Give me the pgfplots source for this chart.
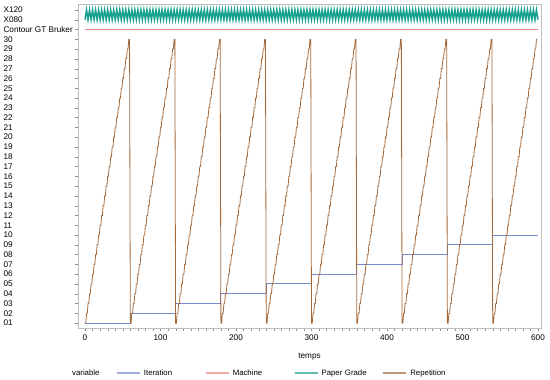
\documentclass[border=0pt]{standalone}
\usepackage{pgfplots}
\pgfplotsset{compat=1.18}
\usepackage{fontspec}
\setmainfont{Liberation Sans}
\definecolor{citer}{RGB}{118,138,210}
\definecolor{cmach}{RGB}{236,130,126}
\definecolor{cpaper}{RGB}{24,162,144}
\definecolor{crep}{RGB}{164,106,60}
\newcommand{\fs}{\fontsize{8.2pt}{10pt}\selectfont}
\newcommand{\fl}{\fontsize{7.8pt}{10pt}\selectfont}
\begin{document}
\begin{tikzpicture}
\useasboundingbox (0,0) rectangle (550pt,380pt);
\begin{axis}[
  at={(78pt,52pt)}, anchor=south west,
  scale only axis, width=463pt, height=324pt,
  xmin=-9.3, xmax=604, ymin=0.5, ymax=33.6,
  clip=false,
  axis line style={black!25},
  tick style={black!45},
  tick align=outside, xtick pos=bottom, ytick pos=left,
  major tick length=3pt, minor tick length=3pt,
  xtick={0,100,...,600}, minor x tick num=9,
  ytick={1,...,33},
  yticklabels={01,02,03,04,05,06,07,08,09,10,11,12,13,14,15,16,17,18,19,20,21,22,23,24,25,26,27,28,29,30,Contour GT Bruker,X080,X120},
  yticklabel style={anchor=west, xshift=-75pt, font=\fs},
  xticklabel style={font=\fs},
  /pgf/number format/assume math mode=true,
  xlabel={temps}, xlabel style={font=\fs, yshift=-6pt},
  legend columns=-1,
  legend style={at={(axis description cs:0.082,-0.139)}, anchor=west, draw=none, fill=none, inner sep=0pt,
    font=\fl, nodes={inner xsep=3pt, text width=56pt, align=left},
    /tikz/every even column/.append style={column sep=2pt}},
]
\addplot[color=citer, line width=1pt, const plot, mark=none,
  legend image code/.code={\draw[citer, line width=1.8pt, opacity=0.7] (0pt,0pt) -- (23pt,0pt);}]
  coordinates {(0,1)(60,2)(120,3)(180,4)(240,5)(300,6)(360,7)(420,8)(480,9)(540,10)(600,10)};
\addlegendentry{Iteration}
\addplot[color=cmach, line width=1.8pt, mark=none,
  legend image code/.code={\draw[cmach, line width=1.8pt, opacity=0.7] (0pt,0pt) -- (23pt,0pt);}]
  coordinates {(0,31)(100,31)(200,31)(300,31)(400,31)(500,31)(600,31)};
\addlegendentry{Machine}
\addplot[color=cpaper, line width=1.5pt, mark=none,
  legend image code/.code={\draw[cpaper, line width=1.8pt, opacity=0.7] (0pt,0pt) -- (23pt,0pt);}]
  coordinates {(0,32)(2,33)(4,32)(6,33)(8,32)(10,33)(12,32)(14,33)(16,32)(18,33)(20,32)(22,33)(24,32)(26,33)(28,32)(30,33)(32,32)(34,33)(36,32)(38,33)(40,32)(42,33)(44,32)(46,33)(48,32)(50,33)(52,32)(54,33)(56,32)(58,33)(60,32)(62,33)(64,32)(66,33)(68,32)(70,33)(72,32)(74,33)(76,32)(78,33)(80,32)(82,33)(84,32)(86,33)(88,32)(90,33)(92,32)(94,33)(96,32)(98,33)(100,32)(102,33)(104,32)(106,33)(108,32)(110,33)(112,32)(114,33)(116,32)(118,33)(120,32)(122,33)(124,32)(126,33)(128,32)(130,33)(132,32)(134,33)(136,32)(138,33)(140,32)(142,33)(144,32)(146,33)(148,32)(150,33)(152,32)(154,33)(156,32)(158,33)(160,32)(162,33)(164,32)(166,33)(168,32)(170,33)(172,32)(174,33)(176,32)(178,33)(180,32)(182,33)(184,32)(186,33)(188,32)(190,33)(192,32)(194,33)(196,32)(198,33)(200,32)(202,33)(204,32)(206,33)(208,32)(210,33)(212,32)(214,33)(216,32)(218,33)(220,32)(222,33)(224,32)(226,33)(228,32)(230,33)(232,32)(234,33)(236,32)(238,33)(240,32)(242,33)(244,32)(246,33)(248,32)(250,33)(252,32)(254,33)(256,32)(258,33)(260,32)(262,33)(264,32)(266,33)(268,32)(270,33)(272,32)(274,33)(276,32)(278,33)(280,32)(282,33)(284,32)(286,33)(288,32)(290,33)(292,32)(294,33)(296,32)(298,33)(300,32)(302,33)(304,32)(306,33)(308,32)(310,33)(312,32)(314,33)(316,32)(318,33)(320,32)(322,33)(324,32)(326,33)(328,32)(330,33)(332,32)(334,33)(336,32)(338,33)(340,32)(342,33)(344,32)(346,33)(348,32)(350,33)(352,32)(354,33)(356,32)(358,33)(360,32)(362,33)(364,32)(366,33)(368,32)(370,33)(372,32)(374,33)(376,32)(378,33)(380,32)(382,33)(384,32)(386,33)(388,32)(390,33)(392,32)(394,33)(396,32)(398,33)(400,32)(402,33)(404,32)(406,33)(408,32)(410,33)(412,32)(414,33)(416,32)(418,33)(420,32)(422,33)(424,32)(426,33)(428,32)(430,33)(432,32)(434,33)(436,32)(438,33)(440,32)(442,33)(444,32)(446,33)(448,32)(450,33)(452,32)(454,33)(456,32)(458,33)(460,32)(462,33)(464,32)(466,33)(468,32)(470,33)(472,32)(474,33)(476,32)(478,33)(480,32)(482,33)(484,32)(486,33)(488,32)(490,33)(492,32)(494,33)(496,32)(498,33)(500,32)(502,33)(504,32)(506,33)(508,32)(510,33)(512,32)(514,33)(516,32)(518,33)(520,32)(522,33)(524,32)(526,33)(528,32)(530,33)(532,32)(534,33)(536,32)(538,33)(540,32)(542,33)(544,32)(546,33)(548,32)(550,33)(552,32)(554,33)(556,32)(558,33)(560,32)(562,33)(564,32)(566,33)(568,32)(570,33)(572,32)(574,33)(576,32)(578,33)(580,32)(582,33)(584,32)(586,33)(588,32)(590,33)(592,32)(594,33)(596,32)(598,33)(600,32)};
\addlegendentry{Paper Grade}
\addplot[color=crep, line width=0.8pt, mark=none,
  legend image code/.code={\draw[crep, line width=1.8pt, opacity=0.7] (0pt,0pt) -- (23pt,0pt);}]
  coordinates {
(0,1)(1,1)(2,2)(3,2)(4,3)(5,3)(6,4)(7,4)(8,5)(9,5)(10,6)(11,6)(12,7)(13,7)(14,8)(15,8)(16,9)(17,9)(18,10)(19,10)(20,11)(21,11)(22,12)(23,12)(24,13)(25,13)(26,14)(27,14)(28,15)(29,15)(30,16)(31,16)(32,17)(33,17)(34,18)(35,18)(36,19)(37,19)(38,20)(39,20)(40,21)(41,21)(42,22)(43,22)(44,23)(45,23)(46,24)(47,24)(48,25)(49,25)(50,26)(51,26)(52,27)(53,27)(54,28)(55,28)(56,29)(57,29)(58,30)(59,30)
(60,1)(61,1)(62,2)(63,2)(64,3)(65,3)(66,4)(67,4)(68,5)(69,5)(70,6)(71,6)(72,7)(73,7)(74,8)(75,8)(76,9)(77,9)(78,10)(79,10)(80,11)(81,11)(82,12)(83,12)(84,13)(85,13)(86,14)(87,14)(88,15)(89,15)(90,16)(91,16)(92,17)(93,17)(94,18)(95,18)(96,19)(97,19)(98,20)(99,20)(100,21)(101,21)(102,22)(103,22)(104,23)(105,23)(106,24)(107,24)(108,25)(109,25)(110,26)(111,26)(112,27)(113,27)(114,28)(115,28)(116,29)(117,29)(118,30)(119,30)
(120,1)(121,1)(122,2)(123,2)(124,3)(125,3)(126,4)(127,4)(128,5)(129,5)(130,6)(131,6)(132,7)(133,7)(134,8)(135,8)(136,9)(137,9)(138,10)(139,10)(140,11)(141,11)(142,12)(143,12)(144,13)(145,13)(146,14)(147,14)(148,15)(149,15)(150,16)(151,16)(152,17)(153,17)(154,18)(155,18)(156,19)(157,19)(158,20)(159,20)(160,21)(161,21)(162,22)(163,22)(164,23)(165,23)(166,24)(167,24)(168,25)(169,25)(170,26)(171,26)(172,27)(173,27)(174,28)(175,28)(176,29)(177,29)(178,30)(179,30)
(180,1)(181,1)(182,2)(183,2)(184,3)(185,3)(186,4)(187,4)(188,5)(189,5)(190,6)(191,6)(192,7)(193,7)(194,8)(195,8)(196,9)(197,9)(198,10)(199,10)(200,11)(201,11)(202,12)(203,12)(204,13)(205,13)(206,14)(207,14)(208,15)(209,15)(210,16)(211,16)(212,17)(213,17)(214,18)(215,18)(216,19)(217,19)(218,20)(219,20)(220,21)(221,21)(222,22)(223,22)(224,23)(225,23)(226,24)(227,24)(228,25)(229,25)(230,26)(231,26)(232,27)(233,27)(234,28)(235,28)(236,29)(237,29)(238,30)(239,30)
(240,1)(241,1)(242,2)(243,2)(244,3)(245,3)(246,4)(247,4)(248,5)(249,5)(250,6)(251,6)(252,7)(253,7)(254,8)(255,8)(256,9)(257,9)(258,10)(259,10)(260,11)(261,11)(262,12)(263,12)(264,13)(265,13)(266,14)(267,14)(268,15)(269,15)(270,16)(271,16)(272,17)(273,17)(274,18)(275,18)(276,19)(277,19)(278,20)(279,20)(280,21)(281,21)(282,22)(283,22)(284,23)(285,23)(286,24)(287,24)(288,25)(289,25)(290,26)(291,26)(292,27)(293,27)(294,28)(295,28)(296,29)(297,29)(298,30)(299,30)
(300,1)(301,1)(302,2)(303,2)(304,3)(305,3)(306,4)(307,4)(308,5)(309,5)(310,6)(311,6)(312,7)(313,7)(314,8)(315,8)(316,9)(317,9)(318,10)(319,10)(320,11)(321,11)(322,12)(323,12)(324,13)(325,13)(326,14)(327,14)(328,15)(329,15)(330,16)(331,16)(332,17)(333,17)(334,18)(335,18)(336,19)(337,19)(338,20)(339,20)(340,21)(341,21)(342,22)(343,22)(344,23)(345,23)(346,24)(347,24)(348,25)(349,25)(350,26)(351,26)(352,27)(353,27)(354,28)(355,28)(356,29)(357,29)(358,30)(359,30)
(360,1)(361,1)(362,2)(363,2)(364,3)(365,3)(366,4)(367,4)(368,5)(369,5)(370,6)(371,6)(372,7)(373,7)(374,8)(375,8)(376,9)(377,9)(378,10)(379,10)(380,11)(381,11)(382,12)(383,12)(384,13)(385,13)(386,14)(387,14)(388,15)(389,15)(390,16)(391,16)(392,17)(393,17)(394,18)(395,18)(396,19)(397,19)(398,20)(399,20)(400,21)(401,21)(402,22)(403,22)(404,23)(405,23)(406,24)(407,24)(408,25)(409,25)(410,26)(411,26)(412,27)(413,27)(414,28)(415,28)(416,29)(417,29)(418,30)(419,30)
(420,1)(421,1)(422,2)(423,2)(424,3)(425,3)(426,4)(427,4)(428,5)(429,5)(430,6)(431,6)(432,7)(433,7)(434,8)(435,8)(436,9)(437,9)(438,10)(439,10)(440,11)(441,11)(442,12)(443,12)(444,13)(445,13)(446,14)(447,14)(448,15)(449,15)(450,16)(451,16)(452,17)(453,17)(454,18)(455,18)(456,19)(457,19)(458,20)(459,20)(460,21)(461,21)(462,22)(463,22)(464,23)(465,23)(466,24)(467,24)(468,25)(469,25)(470,26)(471,26)(472,27)(473,27)(474,28)(475,28)(476,29)(477,29)(478,30)(479,30)
(480,1)(481,1)(482,2)(483,2)(484,3)(485,3)(486,4)(487,4)(488,5)(489,5)(490,6)(491,6)(492,7)(493,7)(494,8)(495,8)(496,9)(497,9)(498,10)(499,10)(500,11)(501,11)(502,12)(503,12)(504,13)(505,13)(506,14)(507,14)(508,15)(509,15)(510,16)(511,16)(512,17)(513,17)(514,18)(515,18)(516,19)(517,19)(518,20)(519,20)(520,21)(521,21)(522,22)(523,22)(524,23)(525,23)(526,24)(527,24)(528,25)(529,25)(530,26)(531,26)(532,27)(533,27)(534,28)(535,28)(536,29)(537,29)(538,30)(539,30)
(540,1)(541,1)(542,2)(543,2)(544,3)(545,3)(546,4)(547,4)(548,5)(549,5)(550,6)(551,6)(552,7)(553,7)(554,8)(555,8)(556,9)(557,9)(558,10)(559,10)(560,11)(561,11)(562,12)(563,12)(564,13)(565,13)(566,14)(567,14)(568,15)(569,15)(570,16)(571,16)(572,17)(573,17)(574,18)(575,18)(576,19)(577,19)(578,20)(579,20)(580,21)(581,21)(582,22)(583,22)(584,23)(585,23)(586,24)(587,24)(588,25)(589,25)(590,26)(591,26)(592,27)(593,27)(594,28)(595,28)(596,29)(597,29)(598,30)(599,30)
};
\addlegendentry[text width=50pt]{Repetition}
\node[anchor=west, font=\fl, inner sep=0pt] at (axis description cs:-0.013,-0.139) {variable};
\end{axis}
\end{tikzpicture}
\end{document}
